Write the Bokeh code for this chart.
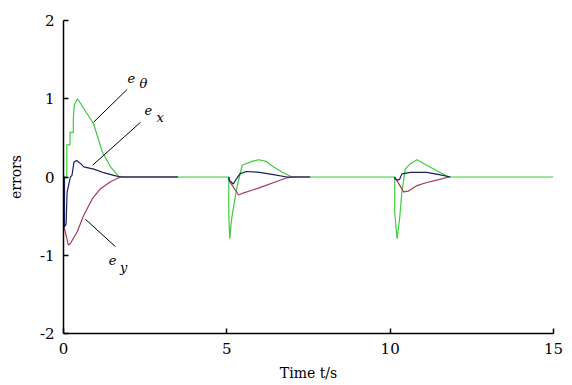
from bokeh.plotting import figure
from bokeh.models import Range1d, FixedTicker, PrintfTickFormatter
from bokeh.core.properties import value
from bokeh.embed import file_html
from bokeh.resources import INLINE

# e_theta (green) - spans whole time range
t_theta = [0, 0.1, 0.1, 0.2, 0.2, 0.3, 0.3, 0.33, 0.43, 0.92, 1.19, 1.44, 1.68, 1.9,
           5.06, 5.06, 5.09, 5.13, 5.16, 5.3, 5.47, 5.77, 5.98, 6.2, 6.39, 6.7, 7.0,
           10.14, 10.14, 10.21, 10.29, 10.36, 10.46, 10.62, 10.82, 11.12, 11.43, 11.79, 15]
e_theta = [0, 0, 0.41, 0.41, 0.57, 0.57, 0.74, 0.92, 1.0, 0.68, 0.32, 0.13, 0.01, 0,
           0, -0.49, -0.79, -0.6, -0.5, -0.15, 0.15, 0.2, 0.22, 0.2, 0.14, 0.06, 0,
           0, -0.45, -0.79, -0.53, -0.19, 0.1, 0.17, 0.22, 0.15, 0.08, 0, 0]

# e_x (dark) - three segments
t_x1 = [0, 0.03, 0.03, 0.08, 0.11, 0.16, 0.21, 0.26, 0.32, 0.40, 0.5, 0.62, 0.93, 1.23, 1.54, 1.74, 3.5]
e_x1 = [0, 0, -0.64, -0.6, -0.19, -0.1, 0, 0.02, 0.19, 0.21, 0.18, 0.13, 0.1, 0.055, 0.02, 0, 0]
t_x2 = [5.06, 5.06, 5.1, 5.2, 5.3, 5.4, 5.6, 6.0, 6.43, 6.84, 7.55]
e_x2 = [0, -0.03, -0.05, -0.09, -0.02, 0.04, 0.07, 0.06, 0.03, 0, 0]
t_x3 = [10.14, 10.14, 10.21, 10.29, 10.36, 10.62, 11.12, 11.5, 11.84]
e_x3 = [0, -0.02, -0.04, -0.03, 0.04, 0.06, 0.06, 0.03, 0]

# e_y (red) - three segments
t_y1 = [0.02, 0.15, 0.21, 0.42, 0.62, 0.88, 1.13, 1.44, 1.74, 3.5]
e_y1 = [-0.64, -0.87, -0.85, -0.70, -0.49, -0.28, -0.15, -0.06, 0, 0]
t_y2 = [5.06, 5.09, 5.36, 5.47, 5.77, 6.18, 6.5, 6.84, 7.0, 7.55]
e_y2 = [0, -0.06, -0.23, -0.21, -0.17, -0.11, -0.06, -0.01, 0, 0]
t_y3 = [10.14, 10.2, 10.41, 10.56, 10.82, 11.12, 11.43, 11.79, 11.84]
e_y3 = [0, -0.04, -0.19, -0.18, -0.11, -0.07, -0.04, 0, 0]

x_ticks = [0, 5, 10, 15]
y_ticks = [-2, -1, 0, 1, 2]

# annotations
lead_x0 = [0.92, 0.89, 0.67]
lead_y0 = [0.70, 0.15, -0.54]
lead_x1 = [1.95, 2.36, 1.59]
lead_y1 = [1.12, 0.70, -0.89]
e_pos_x = [2.08, 2.60, 1.50]
e_pos_y = [1.27, 0.86, -1.06]
sub_pos_x = [2.45, 2.96, 1.84]
sub_pos_y = [1.19, 0.76, -1.16]
sub_text = ["θ", "x", "y"]

GREEN = "#3ccc3c"
DARK = "#1a2060"
RED = "#a83858"
FONT = "DejaVu Serif"

p = figure(width=572, height=385, output_backend="svg", toolbar_location=None,
           x_range=Range1d(0, 15), y_range=Range1d(-2, 2),
           min_border_left=63, min_border_right=19, min_border_top=20, min_border_bottom=52)
p.outline_line_color = None
p.xgrid.visible = False
p.ygrid.visible = False
p.background_fill_color = "white"

p.line(t_theta, e_theta, line_color=GREEN, line_width=1.2)
for tt, yy in [(t_y1, e_y1), (t_y2, e_y2), (t_y3, e_y3)]:
    p.line(tt, yy, line_color=RED, line_width=1.2)
for tt, yy in [(t_x1, e_x1), (t_x2, e_x2), (t_x3, e_x3)]:
    p.line(tt, yy, line_color=DARK, line_width=1.2)

p.segment(lead_x0, lead_y0, lead_x1, lead_y1, line_color="black", line_width=1)
p.text(e_pos_x, e_pos_y, text=["e", "e", "e"], text_font=value(FONT), text_font_style="italic",
       text_font_size="13px", text_align="center", text_baseline="middle", text_color="black")
p.text(sub_pos_x, sub_pos_y, text=sub_text, text_font=value(FONT), text_font_style="italic",
       text_font_size="13px", text_align="center", text_baseline="middle", text_color="black")

for ax in (p.xaxis[0], p.yaxis[0]):
    ax.major_label_text_font = FONT
    ax.major_label_text_font_size = "15px"
    ax.major_label_text_color = "black"
    ax.axis_label_text_font = FONT
    ax.axis_label_text_font_size = "14px"
    ax.axis_label_text_font_style = "normal"
    ax.axis_label_text_color = "black"
    ax.axis_line_color = "black"
    ax.axis_line_width = 1.5
    ax.major_tick_line_color = "black"
    ax.major_tick_line_width = 1.5
    ax.major_tick_in = 5
    ax.major_tick_out = 0
    ax.minor_tick_line_color = None
    ax.formatter = PrintfTickFormatter(format="%d")

p.xaxis.ticker = FixedTicker(ticks=x_ticks)
p.yaxis.ticker = FixedTicker(ticks=y_ticks)
p.xaxis.axis_label = "Time t/s"
p.yaxis.axis_label = "errors"
p.xaxis.major_label_standoff = 9
p.yaxis.major_label_standoff = 9
p.xaxis.axis_label_standoff = 8
p.yaxis.axis_label_standoff = 13

open("out.html", "w").write(file_html(p, INLINE))
